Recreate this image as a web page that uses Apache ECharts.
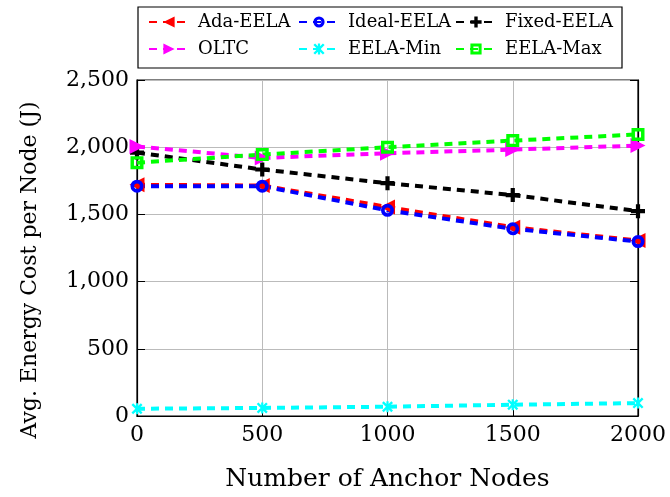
<!DOCTYPE html>
<html><head><meta charset="utf-8">
<script src="https://cdn.jsdelivr.net/npm/echarts@6/dist/echarts.min.js"></script>
<style>html,body{margin:0;padding:0;background:#fff}#c{width:670px;height:497px}</style>
</head><body><div id="c"></div>
<script>
const anchors = [0, 500, 1000, 1500, 2000];
const adaEELA = [1720, 1715, 1555, 1405, 1305];
const idealEELA = [1710, 1710, 1530, 1393, 1298];
const fixedEELA = [1960, 1834, 1732, 1644, 1524];
const oltc = [2005, 1920, 1955, 1982, 2012];
const eelaMin = [54, 60, 69, 84, 96];
const eelaMax = [1885, 1945, 2000, 2049, 2095];
const yTicks = [0, 500, 1000, 1500, 2000, 2500];

const FONT = 'DejaVu Serif';
const plusPath = 'path://M3.5,0 H6.5 V3.5 H10 V6.5 H6.5 V10 H3.5 V6.5 H0 V3.5 H3.5 Z';
const starPath = 'path://M1.5,0 L5,3.5 L8.5,0 L10,1.5 L6.5,5 L10,8.5 L8.5,10 L5,6.5 L1.5,10 L0,8.5 L3.5,5 L0,1.5 Z M4,0 H6 V10 H4 Z';
const ringPath = 'path://M6.5,0 A6.5,6.5 0 1,1 6.49,0 Z M6.5,3.7 A2.8,2.8 0 1,0 6.51,3.7 Z';
const sqPath = 'path://M0,0 H12 V12 H0 Z M3.2,3.2 V8.8 H8.8 V3.2 Z';

function mk(name, data, color, symbol, size, rot) {
  return {
    name, type: 'line', data: anchors.map((a, i) => [a, data[i]]),
    symbol, symbolSize: size, symbolRotate: rot || 0,
    lineStyle: { color, width: 4, type: [8, 6] },
    itemStyle: { color },
    z: 3
  };
}

const series = [
  mk('Ada-EELA', adaEELA, '#ff0000', 'triangle', 15, 90),
  mk('Ideal-EELA', idealEELA, '#0000ff', ringPath, 13, 0),
  mk('Fixed-EELA', fixedEELA, '#000000', plusPath, 14, 0),
  mk('OLTC', oltc, '#ff00ff', 'triangle', 15, -90),
  mk('EELA-Min', eelaMin, '#00ffff', starPath, 11, 0),
  mk('EELA-Max', eelaMax, '#00ff00', sqPath, 13, 0)
];

const legPos = [[148, 13], [298, 13], [455, 13], [148, 40], [298, 40], [455, 40]];
const legends = series.map((s, i) => ({
  data: [s.name], left: legPos[i][0], top: legPos[i][1], padding: 0,
  itemWidth: 40, itemHeight: 14, itemGap: 0,
  textStyle: { fontFamily: FONT, fontSize: 18, color: '#000', padding: [0, 0, 0, 4] },
  selectedMode: false
}));

const chart = echarts.init(document.getElementById('c'), null, { renderer: 'canvas' });
chart.setOption({
  animation: false,
  backgroundColor: '#fff',
  legend: legends,
  graphic: [
    { type: 'rect', shape: { x: 138, y: 7, width: 484, height: 61 }, style: { fill: 'none', stroke: '#000', lineWidth: 1.2 }, z: 10 },
    { type: 'text', x: 30, y: 270, rotation: Math.PI / 2,
      style: { text: 'Avg. Energy Cost per Node (J)', fontFamily: FONT, fontSize: 22, fill: '#000', align: 'center', verticalAlign: 'middle' } }
  ],
  grid: { left: 137, right: 32, top: 80, bottom: 79, show: true, borderColor: '#000', borderWidth: 1.2 },
  xAxis: [{
    type: 'value', min: 0, max: 2000, interval: 500,
    name: 'Number of Anchor Nodes', nameLocation: 'middle', nameGap: 51,
    nameTextStyle: { fontFamily: FONT, fontSize: 25, color: '#000' },
    axisLabel: { fontFamily: FONT, fontSize: 22, color: '#000', margin: 8, formatter: v => String(v) },
    axisLine: { show: true, lineStyle: { color: '#000', width: 1.2 } },
    axisTick: { show: true, inside: true, length: 6, lineStyle: { color: '#000' } },
    splitLine: { show: true, lineStyle: { color: '#bbbbbb', width: 1 } }
  }],
  yAxis: [{
    type: 'value', min: 0, max: 2500, interval: 500,
    axisLabel: { fontFamily: FONT, fontSize: 22, color: '#000', margin: 8,
      formatter: v => yTicks.includes(v) ? v.toLocaleString('en-US') : '' },
    axisLine: { show: true, lineStyle: { color: '#000', width: 1.2 } },
    axisTick: { show: true, inside: true, length: 8, lineStyle: { color: '#000' } },
    splitLine: { show: true, lineStyle: { color: '#bbbbbb', width: 1 } }
  }, {
    type: 'value', min: 0, max: 2500, interval: 500, position: 'right',
    axisLabel: { show: false },
    axisLine: { show: true, lineStyle: { color: '#000', width: 1.2 } },
    axisTick: { show: true, inside: true, length: 8, lineStyle: { color: '#000' } },
    splitLine: { show: false }
  }],
  series
});
</script></body></html>
